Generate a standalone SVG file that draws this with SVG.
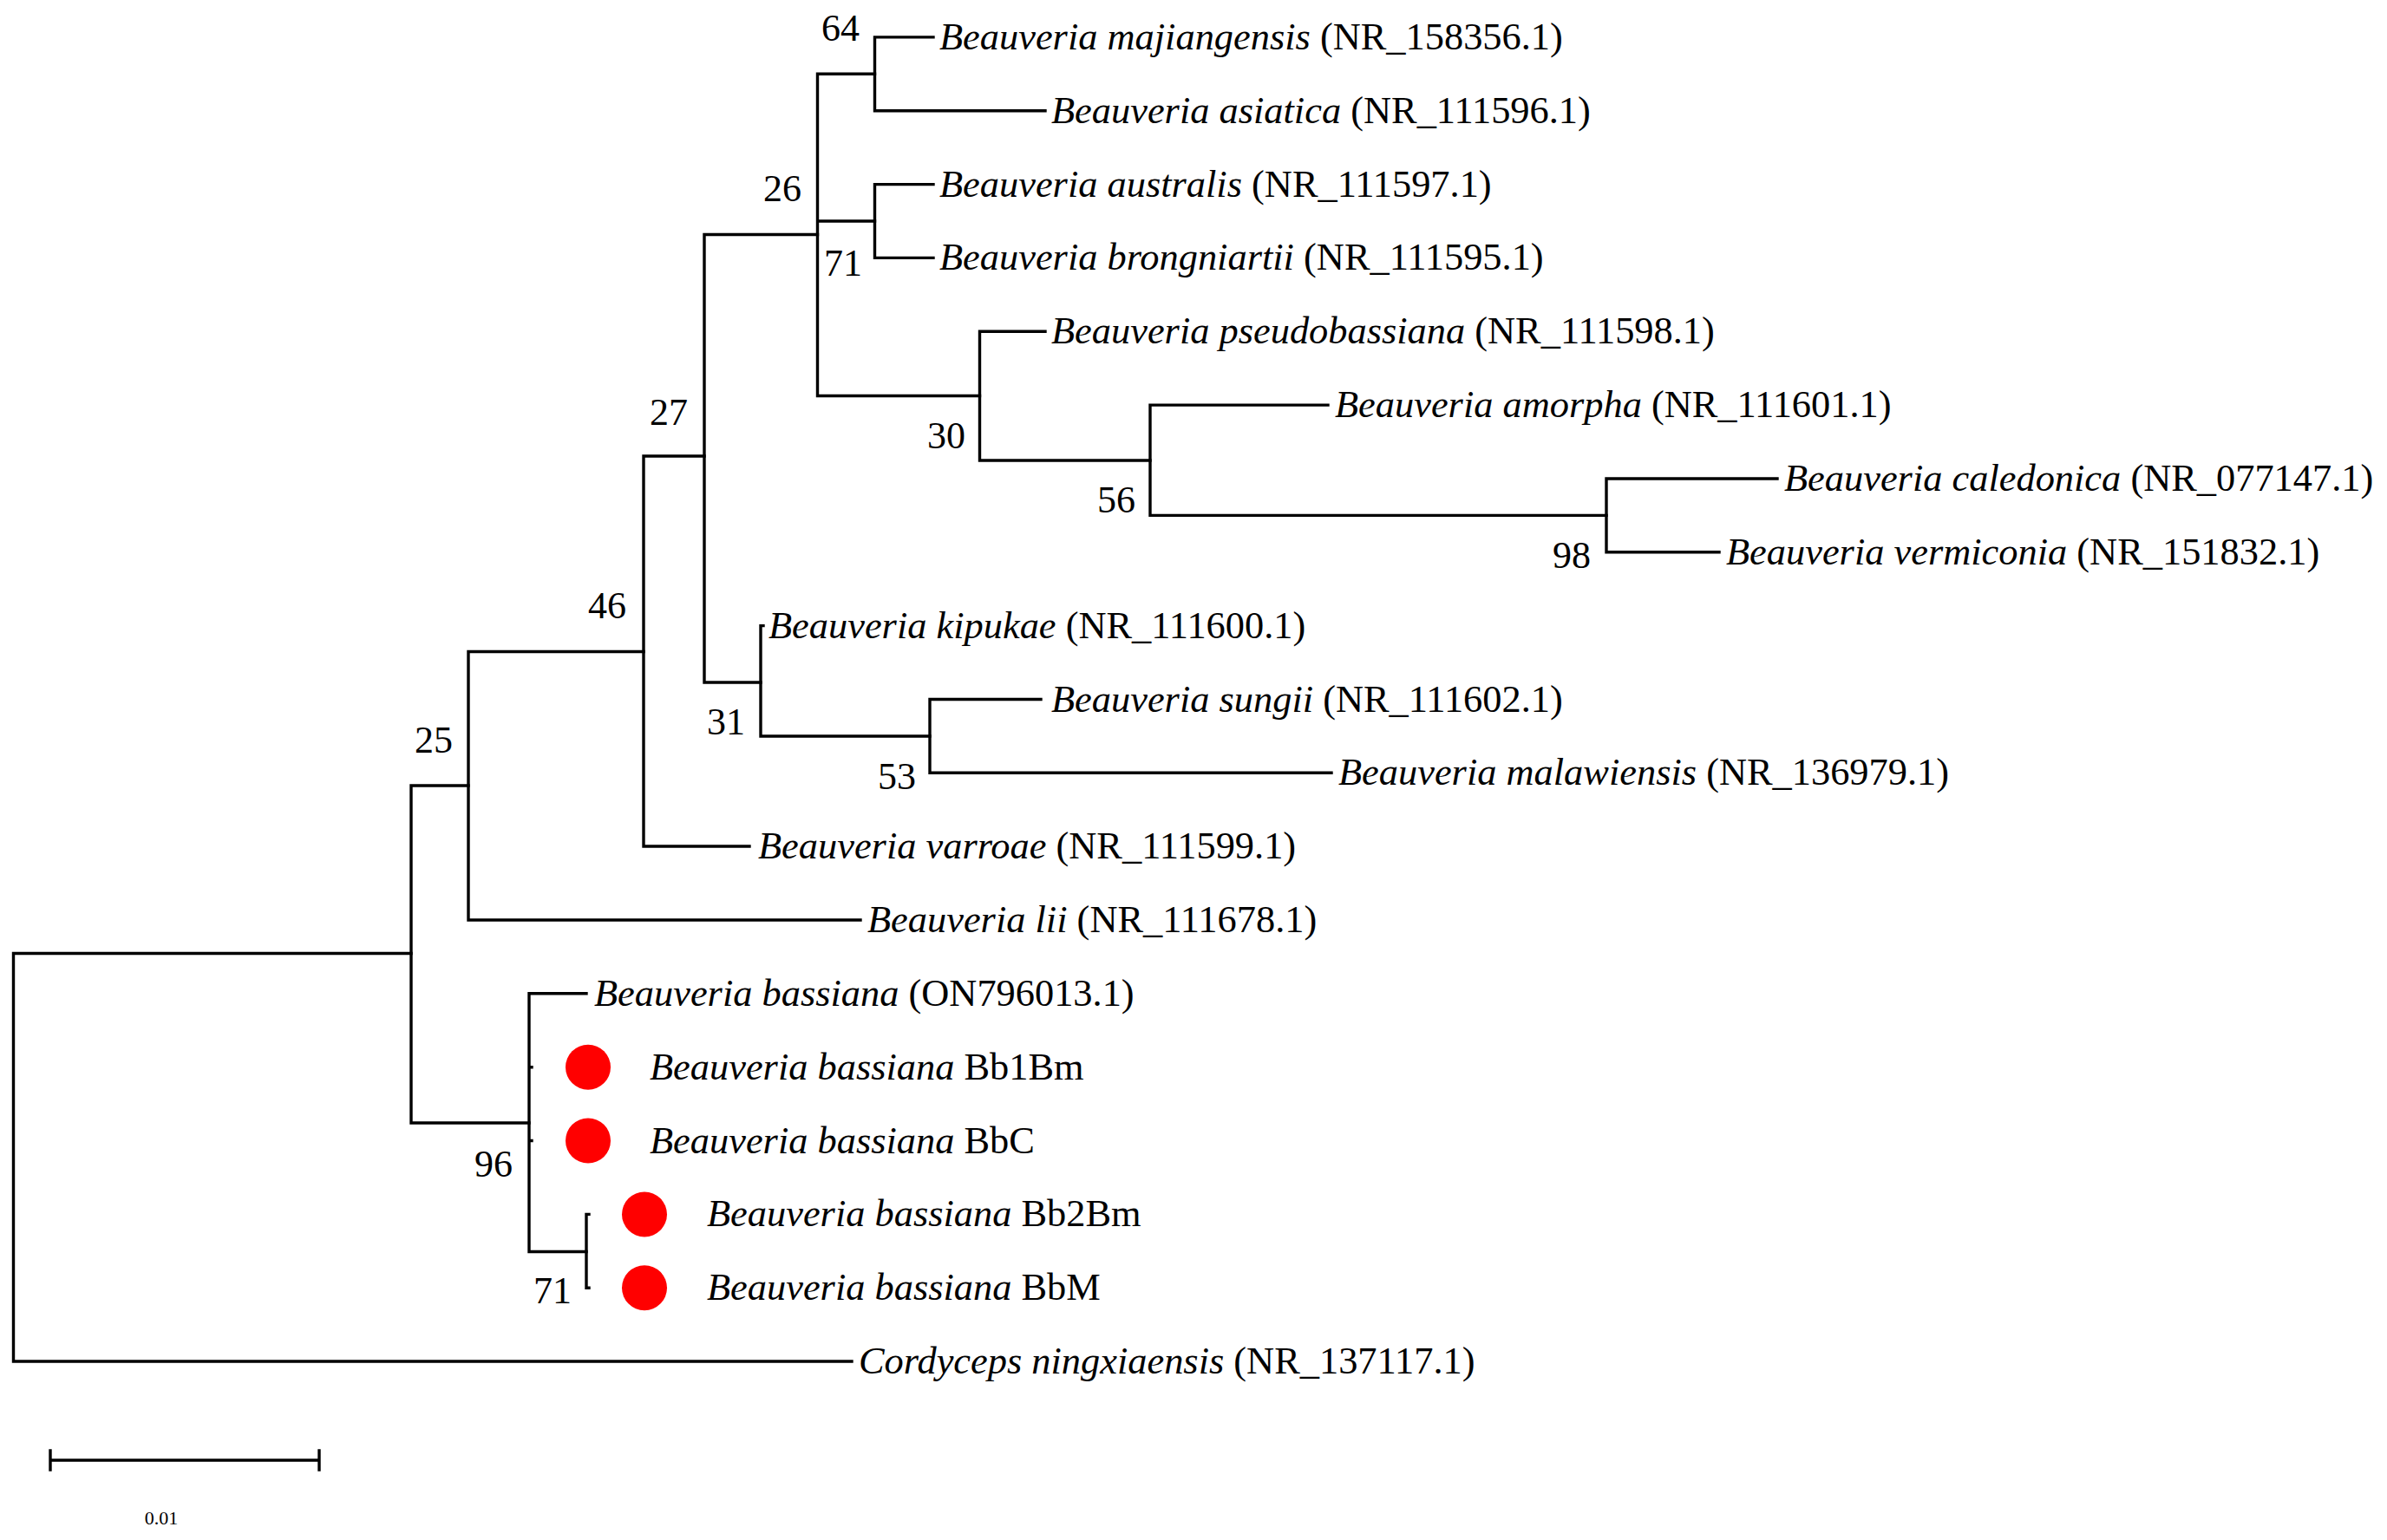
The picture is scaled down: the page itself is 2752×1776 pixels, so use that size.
<svg xmlns="http://www.w3.org/2000/svg" width="2752" height="1776" viewBox="0 0 2752 1776">
<style>
  .br { fill: none; stroke: #000; stroke-width: 3.4; stroke-linecap: square; }
  .lab { font-family: "Liberation Serif", "Times New Roman", serif; font-size: 44.4px; fill: #000; }
  .sp { font-style: italic; }
  .bs { font-family: "Liberation Serif", "Times New Roman", serif; font-size: 44px; fill: #000; }
  .dot { fill: #ff0000; }
</style>
<rect x="0" y="0" width="2752" height="1776" fill="#fff"/>
<g id="connectors">
  <path class="br" d="M15.5,1099.5 V1570 M15.5,1099.5 H474 M15.5,1570 H982"/>
  <path class="br" d="M474,906 V1295 M474,906 H540 M474,1295 H610"/>
  <path class="br" d="M540,751.5 V1061 M540,751.5 H742 M540,1061 H992"/>
  <path class="br" d="M742,526 V976 M742,526 H812 M742,976 H864"/>
  <path class="br" d="M812,270.5 V787 M812,270.5 H942.5 M812,787 H877"/>
  <path class="br" d="M942.5,85.3 V456.5 M942.5,85.3 H1008.5 M942.5,255 H1008.5 M942.5,456.5 H1129.5"/>
  <path class="br" d="M1008.5,42.9 V127.7 M1008.5,42.9 H1076 M1008.5,127.7 H1205"/>
  <path class="br" d="M1008.5,212.6 V297.4 M1008.5,212.6 H1076 M1008.5,297.4 H1076"/>
  <path class="br" d="M1129.5,382.3 V531 M1129.5,382.3 H1205 M1129.5,531 H1326"/>
  <path class="br" d="M1326,467.1 V594.4 M1326,467.1 H1531 M1326,594.4 H1852"/>
  <path class="br" d="M1852,552 V636.8 M1852,552 H2049 M1852,636.8 H1982"/>
  <path class="br" d="M877,721.6 V849 M877,721.6 H880 M877,849 H1072"/>
  <path class="br" d="M1072,806.5 V891.3 M1072,806.5 H1200 M1072,891.3 H1535"/>
  <path class="br" d="M610,1145.8 V1443.5 M610,1145.8 H676 M610,1230.7 H613 M610,1315.5 H613 M610,1443.5 H676"/>
  <path class="br" d="M676,1400.4 V1485.2 M676,1400.4 H679 M676,1485.2 H679"/>
</g>

<g id="support-labels" class="bs">
  <g id="n64"><text x="947" y="47">64</text></g>
  <g id="n26"><text x="880" y="231.5">26</text></g>
  <g id="n71a"><text x="950" y="317.6">71</text></g>
  <g id="n30"><text x="1069" y="517">30</text></g>
  <g id="n56"><text x="1265" y="591">56</text></g>
  <g id="n98"><text x="1790" y="655">98</text></g>
  <g id="n27"><text x="749" y="490">27</text></g>
  <g id="n46"><text x="678" y="713">46</text></g>
  <g id="n31"><text x="815" y="847">31</text></g>
  <g id="n53"><text x="1012" y="910">53</text></g>
  <g id="n25"><text x="478" y="868">25</text></g>
  <g id="n96"><text x="547" y="1356.5">96</text></g>
  <g id="n71b"><text x="615" y="1503">71</text></g>
</g>

<g id="leaves" class="lab">
  <g id="leaf-majiangensis"><text x="1083" y="57"><tspan class="sp">Beauveria majiangensis</tspan> (NR_158356.1)</text></g>
  <g id="leaf-asiatica"><text x="1212" y="141.7"><tspan class="sp">Beauveria asiatica</tspan> (NR_111596.1)</text></g>
  <g id="leaf-australis"><text x="1083" y="226.6"><tspan class="sp">Beauveria australis</tspan> (NR_111597.1)</text></g>
  <g id="leaf-brongniartii"><text x="1083" y="311.4"><tspan class="sp">Beauveria brongniartii</tspan> (NR_111595.1)</text></g>
  <g id="leaf-pseudobassiana"><text x="1212" y="396.3"><tspan class="sp">Beauveria pseudobassiana</tspan> (NR_111598.1)</text></g>
  <g id="leaf-amorpha"><text x="1539" y="481.1"><tspan class="sp">Beauveria amorpha</tspan> (NR_111601.1)</text></g>
  <g id="leaf-caledonica"><text x="2057" y="566"><tspan class="sp">Beauveria caledonica</tspan> (NR_077147.1)</text></g>
  <g id="leaf-vermiconia"><text x="1990" y="650.8"><tspan class="sp">Beauveria vermiconia</tspan> (NR_151832.1)</text></g>
  <g id="leaf-kipukae"><text x="886" y="735.6"><tspan class="sp">Beauveria kipukae</tspan> (NR_111600.1)</text></g>
  <g id="leaf-sungii"><text x="1212" y="820.5"><tspan class="sp">Beauveria sungii</tspan> (NR_111602.1)</text></g>
  <g id="leaf-malawiensis"><text x="1543" y="905.3"><tspan class="sp">Beauveria malawiensis</tspan> (NR_136979.1)</text></g>
  <g id="leaf-varroae"><text x="874" y="990.1"><tspan class="sp">Beauveria varroae</tspan> (NR_111599.1)</text></g>
  <g id="leaf-lii"><text x="1000" y="1075"><tspan class="sp">Beauveria lii</tspan> (NR_111678.1)</text></g>
  <g id="leaf-ON796013"><text x="685" y="1159.8"><tspan class="sp">Beauveria bassiana</tspan> (ON796013.1)</text></g>
  <g id="leaf-Bb1Bm"><circle class="dot" cx="678" cy="1230.7" r="26"/><text x="749" y="1244.7"><tspan class="sp">Beauveria bassiana</tspan> Bb1Bm</text></g>
  <g id="leaf-BbC"><circle class="dot" cx="678" cy="1315.5" r="26"/><text x="749" y="1329.5"><tspan class="sp">Beauveria bassiana</tspan> BbC</text></g>
  <g id="leaf-Bb2Bm"><circle class="dot" cx="743" cy="1400.4" r="26"/><text x="815" y="1414.4"><tspan class="sp">Beauveria bassiana</tspan> Bb2Bm</text></g>
  <g id="leaf-BbM"><circle class="dot" cx="743" cy="1485.2" r="26"/><text x="815" y="1499.2"><tspan class="sp">Beauveria bassiana</tspan> BbM</text></g>
  <g id="leaf-cordyceps"><text x="990" y="1584"><tspan class="sp">Cordyceps ningxiaensis</tspan> (NR_137117.1)</text></g>
</g>

<g id="scale-bar">
  <path class="br" d="M58,1684 H368 M58,1673 V1695 M368,1673 V1695"/>
  <text x="186" y="1758" text-anchor="middle" font-family="Liberation Serif, Times New Roman, serif" font-size="22">0.01</text>
</g>
</svg>
